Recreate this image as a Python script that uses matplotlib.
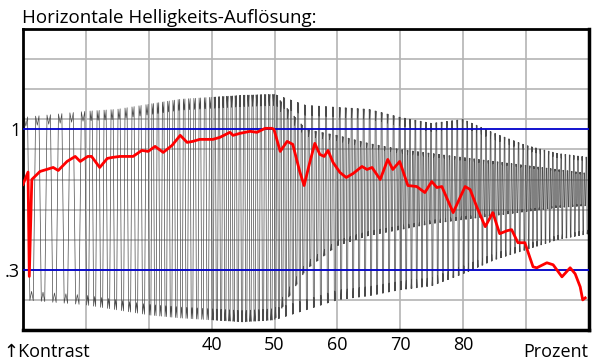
import numpy as np
import matplotlib.pyplot as plt

plt.rcParams['font.family'] = ['Open Sans', 'DejaVu Sans']

# ==== DATA ====
# red contrast curve: percent -> contrast
red_x = [10.0, 10.8, 11.0, 11.4, 12.7, 14.8, 15.6, 17.0, 18.3, 19.1, 20.3, 20.9,
         22.2, 23.4, 24.2, 25.4, 26.5, 27.5, 28.9, 29.9, 31.0, 32.3, 33.7, 35.0,
         36.1, 37.0, 38.1, 40.2, 41.3, 42.9, 43.4, 44.5, 46.1, 47.2, 48.5, 49.6,
         49.9, 50.9, 52.0, 52.9, 54.0, 54.7, 55.6, 56.4, 57.2, 57.9, 58.5, 59.3,
         60.4, 61.4, 62.5, 63.9, 64.7, 65.5, 66.8, 68.0, 68.8, 69.9, 71.2, 72.6,
         73.9, 75.0, 75.8, 76.6, 78.4, 79.2, 80.3, 81.1, 82.2, 83.5, 84.7, 85.8,
         87.0, 87.7, 88.7, 89.8, 91.1, 91.7, 93.3, 94.3, 95.7, 97.0, 97.8, 98.6,
         99.0, 99.4]
red_y = [0.725, 0.787, 0.267, 0.75, 0.79, 0.81, 0.795, 0.84, 0.865, 0.84, 0.865, 0.865,
         0.81, 0.855, 0.86, 0.865, 0.865, 0.865, 0.895, 0.89, 0.915, 0.885, 0.92, 0.97,
         0.935, 0.94, 0.95, 0.95, 0.96, 0.985, 0.97, 0.98, 0.99, 0.985, 1.005, 1.005,
         1.0, 0.89, 0.94, 0.925, 0.79, 0.72, 0.835, 0.93, 0.875, 0.865, 0.895, 0.835,
         0.785, 0.76, 0.78, 0.815, 0.8, 0.81, 0.75, 0.85, 0.8, 0.84, 0.72, 0.715,
         0.685, 0.74, 0.71, 0.715, 0.585, 0.64, 0.715, 0.70, 0.61, 0.515, 0.585, 0.48,
         0.495, 0.50, 0.435, 0.435, 0.315, 0.31, 0.335, 0.325, 0.265, 0.31, 0.28, 0.215,
         0.15, 0.16]

# gray test signal: outer envelope, dense core band, counted cycles per division
env_x   = [10, 20, 25, 30, 35, 40, 45, 50, 55, 60, 65, 70, 75, 80, 85, 90, 95, 100]
env_hi  = [1.06, 1.09, 1.10, 1.125, 1.15, 1.16, 1.17, 1.175, 1.12, 1.11, 1.10, 1.06,
           1.03, 1.05, 0.98, 0.92, 0.88, 0.86]
env_lo  = [0.15, 0.125, 0.10, 0.075, 0.06, 0.05, 0.04, 0.05, 0.10, 0.15, 0.17, 0.20,
           0.22, 0.28, 0.35, 0.40, 0.45, 0.48]
core_hi = [1.06, 1.09, 1.10, 1.125, 1.15, 1.16, 1.17, 1.175, 1.0, 0.97, 0.93, 0.90,
           0.88, 0.86, 0.84, 0.82, 0.80, 0.78]
core_lo = [0.15, 0.125, 0.10, 0.075, 0.06, 0.05, 0.04, 0.05, 0.30, 0.42, 0.47, 0.50,
           0.53, 0.55, 0.57, 0.59, 0.61, 0.62]
div_edges = [10, 20, 30, 40, 50, 60, 70, 80, 90, 100]
cycles_per_div = [5.5, 9, 12, 15, 18, 21, 24, 27, 30]

x_ticks = [40, 50, 60, 70, 80]
# =====================================

# build the zig-zag vertices of the test signal
cum = np.concatenate([[0], np.cumsum(cycles_per_div)])
phase_steps = [0.1, 0.25, 0.4, 0.6, 0.75, 0.9]
n_cyc = int(np.floor(cum[-1]))
ph = np.concatenate([k + np.array(phase_steps) for k in range(n_cyc)])
cyc = np.repeat(np.arange(n_cyc), 6)
gx = np.interp(ph, cum, div_edges)
outer = cyc % 2 == 0
hi = np.where(outer, np.interp(gx, env_x, env_hi), np.interp(gx, env_x, core_hi))
lo = np.where(outer, np.interp(gx, env_x, env_lo), np.interp(gx, env_x, core_lo))
notch = 0.05 * (hi - lo)
pos = np.tile(np.arange(6), n_cyc)
gy = np.where(pos == 1, hi - notch,
     np.where(pos == 4, lo + notch,
     np.where(pos < 3, hi, lo)))

fig = plt.figure(figsize=(6, 3.64), dpi=100)
ax = fig.add_axes([23/600, 1 - 330/364, 566/600, 301/364])

ax.plot(gx, gy, color='#4a4a4a', lw=0.5, zorder=2)
for yv in (0.3, 1.0):
    ax.axhline(yv, color='#0000cc', lw=1.3, zorder=3)
ax.plot(red_x, red_y, color='#ff0000', lw=2, zorder=4)

ax.set_xlim(10, 100)
ax.set_ylim(0, 1.5)
for xv in range(20, 100, 10):
    ax.axvline(xv, color='#b4b4b4', lw=1.2, zorder=1)
for yv in np.arange(0.15, 1.5, 0.15):
    ax.axhline(yv, color='#b4b4b4', lw=1.2, zorder=1)

ax.set_xticks(x_ticks)
ax.set_xticklabels([str(v) for v in x_ticks], fontsize=13)
ax.set_yticks([0.3, 1.0])
ax.set_yticklabels(['.3', '1'], fontsize=13)
ax.tick_params(length=0, pad=4)
ax.tick_params(axis='y', pad=2)
for s in ax.spines.values():
    s.set_linewidth(2)
    s.set_color('black')
ax.spines['right'].set_linewidth(2.5)
ax.spines['bottom'].set_linewidth(2.5)

fig.text(3/600, 1 - 357/364, '↑Kontrast', fontsize=13, ha='left', va='baseline')
fig.text(588/600, 1 - 357/364, 'Prozent', fontsize=13, ha='right', va='baseline')
fig.text(22/600, 1 - 23/364, 'Horizontale Helligkeits-Auflösung:', fontsize=13.5,
         ha='left', va='baseline')

fig.savefig('out.png', dpi=100)
